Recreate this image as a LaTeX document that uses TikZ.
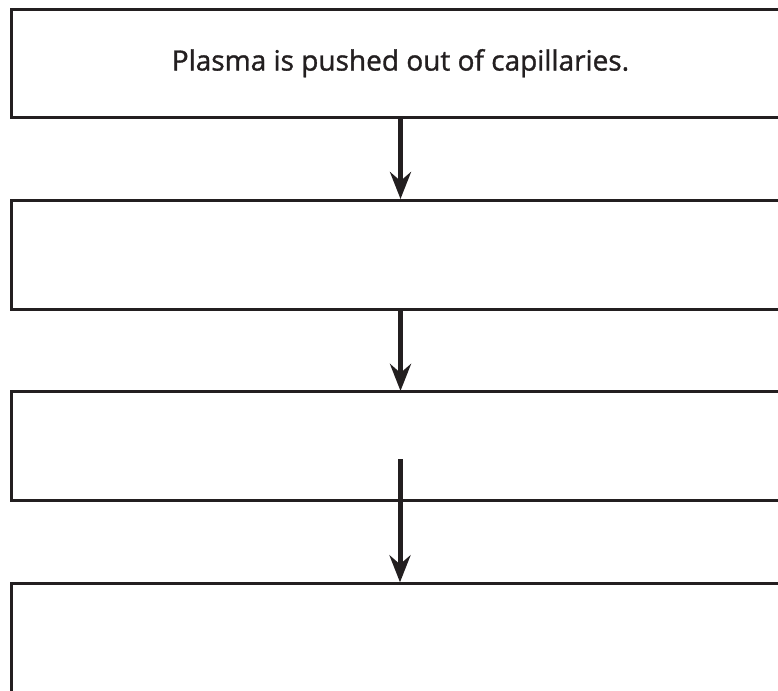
\documentclass[tikz,border=0pt]{standalone}
\usepackage{fontspec}
\setmainfont{Open Sans}
\newfontfamily\labelfont[FakeBold=1.2]{Open Sans}
\usetikzlibrary{arrows.meta}
\definecolor{ink}{HTML}{231F20}
\begin{document}
\begin{tikzpicture}[x=1pt,y=-1pt,
  flowbox/.style={draw=ink,line width=3pt,rectangle,minimum width=779pt,minimum height=108pt,inner sep=0pt,outer sep=0pt,text=ink},
  flowarrow/.style={draw=ink,line width=5pt,-{Stealth[length=27pt,width=21pt,inset=9pt]},shorten >=1pt}]
\useasboundingbox (0,0) rectangle (778,690);
\node[flowbox] (b1) at (400.5,63.2) {\labelfont\fontsize{28pt}{32pt}\selectfont Plasma is pushed out of capillaries.};
\node[flowbox,minimum height=109pt] (b2) at (400.5,254.5) {};
\node[flowbox,minimum height=108.5pt] (b3) at (400.5,446.2) {};
\node[flowbox,minimum height=110pt] (b4) at (400.5,638.3) {};
\coordinate (s3) at (400,459);
\draw[flowarrow] (b1.south) -- (b2.north);
\draw[flowarrow] (b2.south) -- (b3.north);
\draw[flowarrow] (s3) -- (s3 |- b4.north);
\end{tikzpicture}
\end{document}
